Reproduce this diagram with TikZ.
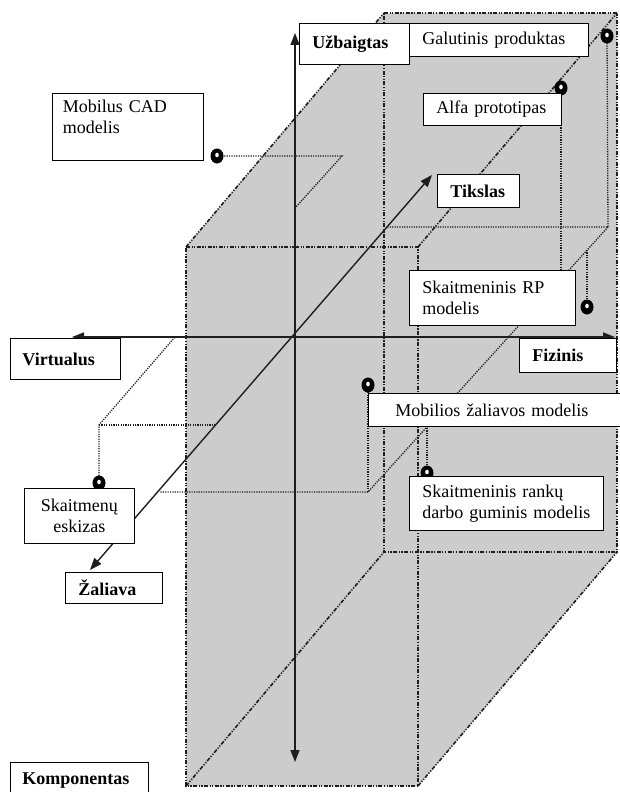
\documentclass[tikz,border=0pt]{standalone}
\usepackage{fontspec}
\setmainfont{Liberation Serif}
\usetikzlibrary{arrows.meta}
\definecolor{boxgray}{RGB}{204,204,204}
\definecolor{ink}{RGB}{30,30,30}
\tikzset{
  edgeline/.style={draw=ink, line width=1.6pt,
    dash pattern=on 4pt off 1.5pt on 1.2pt off 1.5pt on 1.2pt off 1.5pt},
  proj/.style={draw=ink, line width=1.3pt, dash pattern=on 1.2pt off 1.2pt},
  axisline/.style={draw=ink, line width=1.4pt,
    {Triangle[length=12pt,width=9pt]}-{Triangle[length=12pt,width=9pt]}},
  lbl/.style={draw=black, line width=0.9pt, fill=white, anchor=north west,
    inner xsep=13pt, inner ysep=0pt, align=left,
    font=\fontsize{18}{21}\selectfont},
}
\newcommand{\myball}[2]{%
  \fill[black] (#1,#2) ellipse [x radius=6.5pt, y radius=7.5pt];
  \fill[white] (#1,#2-1) ellipse [x radius=1.8pt, y radius=2.3pt];}
\begin{document}
\begin{tikzpicture}[x=1pt,y=-1pt]
\useasboundingbox (0,0) rectangle (620,792);
% cube corners
\coordinate (F1) at (186,247);
\coordinate (F2) at (418,247);
\coordinate (F3) at (418,786);
\coordinate (F4) at (186,786);
\coordinate (B1) at (384,13);
\coordinate (B2) at (617,13);
\coordinate (B3) at (617,552);
\coordinate (B4) at (384,552);
% shaded silhouette
\fill[boxgray] (F1) -- (B1) -- (B2) -- (B3) -- (F3) -- (F4) -- cycle;
% edges
\draw[edgeline] (F1) -- (F2) -- (F3) -- (F4) -- cycle;
\draw[edgeline] (B1) -- (B2) -- (B3) -- (B4) -- cycle;
\draw[edgeline] (F1) -- (B1);
\draw[edgeline] (F2) -- (B2);
\draw[edgeline] (F3) -- (B3);
\draw[edgeline] (F4) -- (B4);
% projection lines
\coordinate (p1) at (342,156);
\coordinate (p2) at (295,208);
\coordinate (g1) at (608,227);
\coordinate (g2) at (387,227);
\coordinate (g3) at (368,492);
\coordinate (g4) at (160,492);
\coordinate (a1) at (561,125);
\coordinate (a2) at (561,270);
\coordinate (r1) at (587,250);
\coordinate (k1) at (427,428);
\coordinate (s1) at (99,425);
\coordinate (s2) at (175,337);
\coordinate (s3) at (216,425);
\coordinate (dCAD) at (217,156);
\coordinate (dGal) at (607,36);
\coordinate (dAlf) at (561,88);
\coordinate (dRP) at (587,307);
\coordinate (dMob) at (368,385);
\coordinate (dRan) at (427,473);
\coordinate (dEsk) at (99,483);
\draw[proj] (dCAD) -- (p1) -- (p2);
\draw[proj] (dGal) -- (g1) -- (g2);
\draw[proj] (g1) -- (g3) -- (g4);
\draw[proj] (a1) -- (a2);
\draw[proj] (r1) -- (dRP);
\draw[proj] (dMob) -- (g3);
\draw[proj] (k1) -- (dRan);
\draw[proj] (dEsk) -- (s1) -- (s2);
\draw[proj] (s1) -- (s3);
% axes
\coordinate (O) at (295,337);
\coordinate (axU) at (295,33);
\coordinate (axD) at (295,762);
\coordinate (axL) at (72,337);
\coordinate (axR) at (615,337);
\coordinate (axT) at (432,175);
\coordinate (axZ) at (90,570);
\draw[axisline] (axD) -- (axU);
\draw[axisline] (axL) -- (axR);
\draw[axisline] (axZ) -- (axT);
% dots
\myball{217}{156}
\myball{607}{36}
\myball{561}{88}
\myball{587}{307}
\myball{368}{385}
\myball{427}{473}
\myball{99}{483}
% labels
\node[lbl, minimum width=110pt, text width=84pt, minimum height=41pt] (uzb) at (299,23) {\textbf{Užbaigtas}};
\node[lbl, minimum width=179pt, text width=153pt, minimum height=33pt] (gal) at (409,23) {Galutinis produktas};
\node[lbl, minimum width=138pt, text width=112pt, minimum height=32pt] (alf) at (423,93) {Alfa prototipas};
\node[lbl, minimum width=151pt, text width=130pt, minimum height=67pt, inner xsep=10pt] (cad) at (52,93) {Mobilus CAD\\modelis\\\mbox{}};
\node[lbl, minimum width=82pt, text width=56pt, minimum height=33pt] (tik) at (437,174) {\textbf{Tikslas}};
\node[lbl, minimum width=166pt, text width=140pt, minimum height=55pt] (rp) at (409,270) {Skaitmeninis RP\\modelis};
\node[lbl, minimum width=110pt, text width=86pt, minimum height=41pt, inner xsep=12pt] (vir) at (10,338) {\textbf{Virtualus}};
\node[lbl, minimum width=97pt, text width=71pt, minimum height=34pt] (fiz) at (519,338) {\textbf{Fizinis}};
\node[lbl, minimum width=257pt, text width=217pt, minimum height=33pt, inner xsep=20pt] (mob) at (368,393) {\hspace*{7pt}Mobilios žaliavos modelis};
\node[lbl, minimum width=110pt, text width=100pt, minimum height=55pt, inner xsep=5pt, align=center] (esk) at (24,488) {Skaitmenų\\eskizas};
\node[lbl, minimum width=194pt, text width=168pt, minimum height=54pt] (ran) at (409,476) {Skaitmeninis rankų\\darbo guminis modelis};
\node[lbl, minimum width=97pt, text width=71pt, minimum height=31pt] (zal) at (65,572) {\textbf{Žaliava}};
\node[lbl, minimum width=138pt, text width=114pt, minimum height=36pt, inner xsep=12pt] (kom) at (10,762) {\textbf{Komponentas}};
\end{tikzpicture}
\end{document}
